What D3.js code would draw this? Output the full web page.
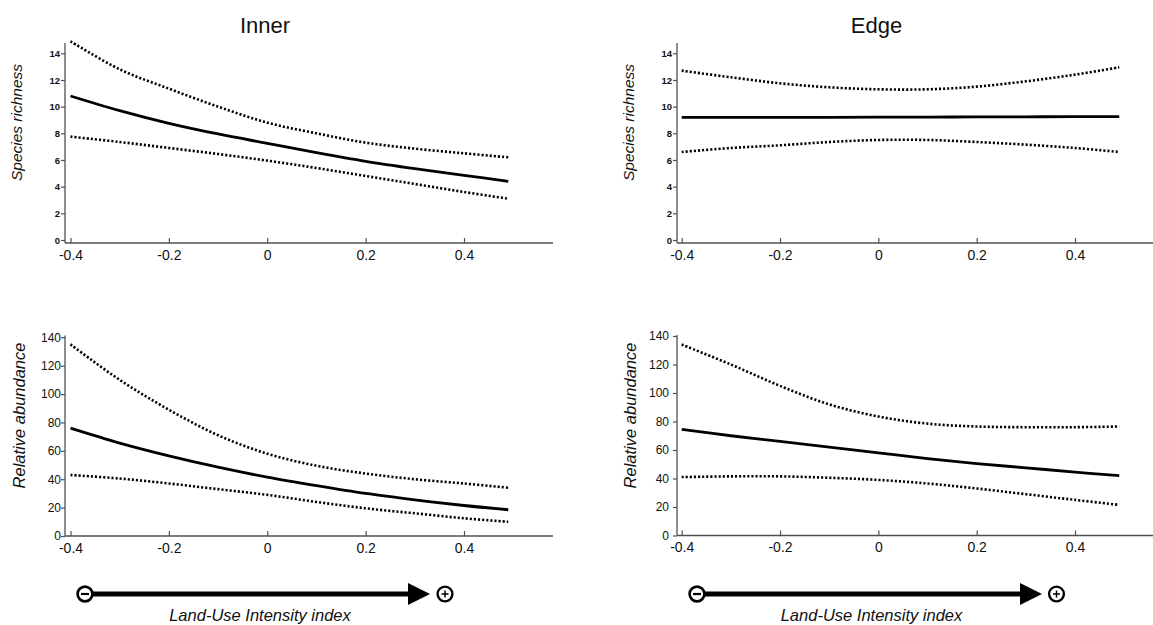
<!DOCTYPE html>
<html><head><meta charset="utf-8">
<script src="https://cdn.jsdelivr.net/npm/d3@7"></script>
<style>body{margin:0;background:#fff}svg{display:block}</style>
</head><body>
<svg id="c" width="1153" height="625"></svg>
<script>
// ---------- data ----------
const xValues = [-0.4, -0.3, -0.2, -0.1, 0, 0.1, 0.2, 0.3, 0.4, 0.49];

const innerRichnessMean  = [10.8, 9.7, 8.75, 7.95, 7.25, 6.55, 5.9, 5.35, 4.85, 4.4];
const innerRichnessUpper = [14.9, 12.8, 11.35, 10.0, 8.8, 8.0, 7.3, 6.85, 6.5, 6.2];
const innerRichnessLower = [7.75, 7.35, 6.9, 6.45, 5.95, 5.4, 4.8, 4.2, 3.6, 3.1];

const edgeRichnessMean  = [9.2, 9.2, 9.2, 9.2, 9.22, 9.22, 9.23, 9.24, 9.25, 9.25];
const edgeRichnessUpper = [12.7, 12.2, 11.75, 11.45, 11.3, 11.3, 11.5, 11.9, 12.4, 12.95];
const edgeRichnessLower = [6.6, 6.9, 7.1, 7.35, 7.5, 7.5, 7.35, 7.15, 6.9, 6.6];

const innerAbundanceMean  = [76, 65.5, 56.5, 48.5, 41.5, 35.5, 30, 25.5, 21.5, 18.5];
const innerAbundanceUpper = [135, 110, 89, 71, 58, 49.5, 44, 40, 37, 34];
const innerAbundanceLower = [43, 40.5, 37, 33, 29, 24, 19.5, 16, 12.5, 10];

const edgeAbundanceMean  = [74.5, 70, 66, 62, 58, 54, 50.5, 47.5, 44.5, 42];
const edgeAbundanceUpper = [134, 120, 105, 92, 83.5, 78.5, 76.5, 76, 76, 76.5];
const edgeAbundanceLower = [41, 41.5, 41.5, 40.5, 39, 36.5, 33, 29, 25, 21.5];

const xTickValues = [-0.4, -0.2, 0, 0.2, 0.4];
const xTickLabels = ["-0.4", "-0.2", "0", "0.2", "0.4"];
const richnessTicks = [0, 2, 4, 6, 8, 10, 12, 14];
const abundanceTicks = [0, 20, 40, 60, 80, 100, 120, 140];
const columnTitles = ["Inner", "Edge"];
const rowLabels = ["Species richness", "Relative abundance"];
const xAxisTitle = "Land-Use Intensity index";

// ---------- layout ----------
const FONT = "'Liberation Sans', Arial, Helvetica, sans-serif";
const AXIS = "#505050";
const svg = d3.select("#c");

const panels = [
  {mean: innerRichnessMean, upper: innerRichnessUpper, lower: innerRichnessLower,
   ticks: richnessTicks, yMax: 14, left: 65, right: 553, x0: 70.5, x1: 464,
   axisY: 243, y0: 240, y1: 53.3, top: 43, tickFont: "bold 9.5px", tickPad: 1,
   label: rowLabels[0], labelX: 22, labelY: 122.5, labelSize: 15.5},
  {mean: edgeRichnessMean, upper: edgeRichnessUpper, lower: edgeRichnessLower,
   ticks: richnessTicks, yMax: 14, left: 677, right: 1165, x0: 681.7, x1: 1075,
   axisY: 243, y0: 240, y1: 53.3, top: 43, tickFont: "bold 9.5px", tickPad: 1,
   label: rowLabels[0], labelX: 634, labelY: 122.5, labelSize: 15.5},
  {mean: innerAbundanceMean, upper: innerAbundanceUpper, lower: innerAbundanceLower,
   ticks: abundanceTicks, yMax: 140, left: 65, right: 553, x0: 70.5, x1: 464,
   axisY: 536, y0: 536, y1: 337.3, top: 335.5, tickFont: "12px", tickPad: 0,
   label: rowLabels[1], labelX: 24.5, labelY: 415.5, labelSize: 16.5},
  {mean: edgeAbundanceMean, upper: edgeAbundanceUpper, lower: edgeAbundanceLower,
   ticks: abundanceTicks, yMax: 140, left: 677, right: 1165, x0: 681.7, x1: 1075,
   axisY: 535.5, y0: 535.5, y1: 336, top: 335, tickFont: "12px", tickPad: 4,
   label: rowLabels[1], labelX: 636, labelY: 415.5, labelSize: 16.5}
];

panels.forEach(p => {
  const x = d3.scaleLinear().domain([-0.4, 0.4]).range([p.x0, p.x1]);
  const y = d3.scaleLinear().domain([0, p.yMax]).range([p.y0, p.y1]);
  const g = svg.append("g");

  // x axis
  const xa = g.append("g").attr("transform", `translate(0,${p.axisY})`)
    .call(d3.axisBottom(x).tickValues(xTickValues).tickSizeInner(-5).tickSizeOuter(0)
      .tickPadding(7).tickFormat((d, i) => xTickLabels[i]));
  xa.select(".domain").remove();
  xa.selectAll(".tick line").attr("stroke", AXIS).attr("stroke-width", 1.2);
  xa.selectAll(".tick text").attr("font-family", FONT).attr("font-size", 14).attr("fill", "#111");
  g.append("line").attr("x1", p.left).attr("x2", p.right).attr("y1", p.axisY).attr("y2", p.axisY)
    .attr("stroke", AXIS).attr("stroke-width", 1.3);

  // y axis
  const ya = g.append("g").attr("transform", `translate(${p.left},0)`)
    .call(d3.axisLeft(y).tickValues(p.ticks).tickSizeInner(4).tickSizeOuter(0).tickPadding(p.tickPad));
  ya.select(".domain").remove();
  ya.selectAll(".tick line").attr("stroke", AXIS).attr("stroke-width", 1.2);
  ya.selectAll(".tick text").attr("style", `font:${p.tickFont} ${FONT}`).attr("fill", "#111");
  g.append("line").attr("x1", p.left).attr("x2", p.left).attr("y1", p.top).attr("y2", p.axisY)
    .attr("stroke", AXIS).attr("stroke-width", 1.3);

  // y label
  g.append("text").attr("transform", `translate(${p.labelX},${p.labelY}) rotate(-90)`)
    .attr("text-anchor", "middle").attr("font-family", FONT).attr("font-style", "italic")
    .attr("font-size", p.labelSize).attr("fill", "#111").text(p.label);

  const line = d3.line().x((d, i) => x(xValues[i])).y(d => y(d)).curve(d3.curveCatmullRom);
  [p.upper, p.lower].forEach(arr => {
    g.append("path").attr("d", line(arr)).attr("fill", "none").attr("stroke", "#000")
      .attr("stroke-width", 2.6).attr("stroke-dasharray", "2.1,2");
  });
  g.append("path").attr("d", line(p.mean)).attr("fill", "none").attr("stroke", "#000")
    .attr("stroke-width", 2.8);
});

// column titles
const titles = [{t: columnTitles[0], x: 265, y: 33}, {t: columnTitles[1], x: 876.5, y: 33}];
titles.forEach(d => {
  svg.append("text").attr("x", d.x).attr("y", d.y).attr("text-anchor", "middle")
    .attr("font-family", FONT).attr("font-size", 22).attr("fill", "#111").text(d.t);
});

// arrows
const arrows = [
  {minusX: 85, lineStart: 93, headBase: 408, tip: 430, plusX: 445, cy: 594, textX: 260},
  {minusX: 697, lineStart: 705, headBase: 1020, tip: 1042, plusX: 1056.5, cy: 594, textX: 871.5}
];
arrows.forEach(a => {
  const g = svg.append("g");
  g.append("line").attr("x1", a.lineStart).attr("x2", a.headBase + 2).attr("y1", a.cy).attr("y2", a.cy)
    .attr("stroke", "#000").attr("stroke-width", 5);
  g.append("path").attr("d", `M${a.headBase},${a.cy - 11}L${a.tip},${a.cy}L${a.headBase},${a.cy + 11}Z`)
    .attr("fill", "#000");
  g.append("circle").attr("cx", a.minusX).attr("cy", a.cy).attr("r", 7.4)
    .attr("fill", "#fff").attr("stroke", "#000").attr("stroke-width", 2.6);
  g.append("line").attr("x1", a.minusX - 4).attr("x2", a.minusX + 4).attr("y1", a.cy).attr("y2", a.cy)
    .attr("stroke", "#000").attr("stroke-width", 2.2);
  g.append("circle").attr("cx", a.plusX).attr("cy", a.cy).attr("r", 7.4)
    .attr("fill", "#fff").attr("stroke", "#000").attr("stroke-width", 2.4);
  g.append("line").attr("x1", a.plusX - 3.5).attr("x2", a.plusX + 3.5).attr("y1", a.cy).attr("y2", a.cy)
    .attr("stroke", "#000").attr("stroke-width", 1.5);
  g.append("line").attr("x1", a.plusX).attr("x2", a.plusX).attr("y1", a.cy - 3.5).attr("y2", a.cy + 3.5)
    .attr("stroke", "#000").attr("stroke-width", 1.5);
  g.append("text").attr("x", a.textX).attr("y", 620.5).attr("text-anchor", "middle")
    .attr("font-family", FONT).attr("font-style", "italic").attr("font-size", 16.5)
    .attr("fill", "#111").text(xAxisTitle);
});
</script>
</body></html>
